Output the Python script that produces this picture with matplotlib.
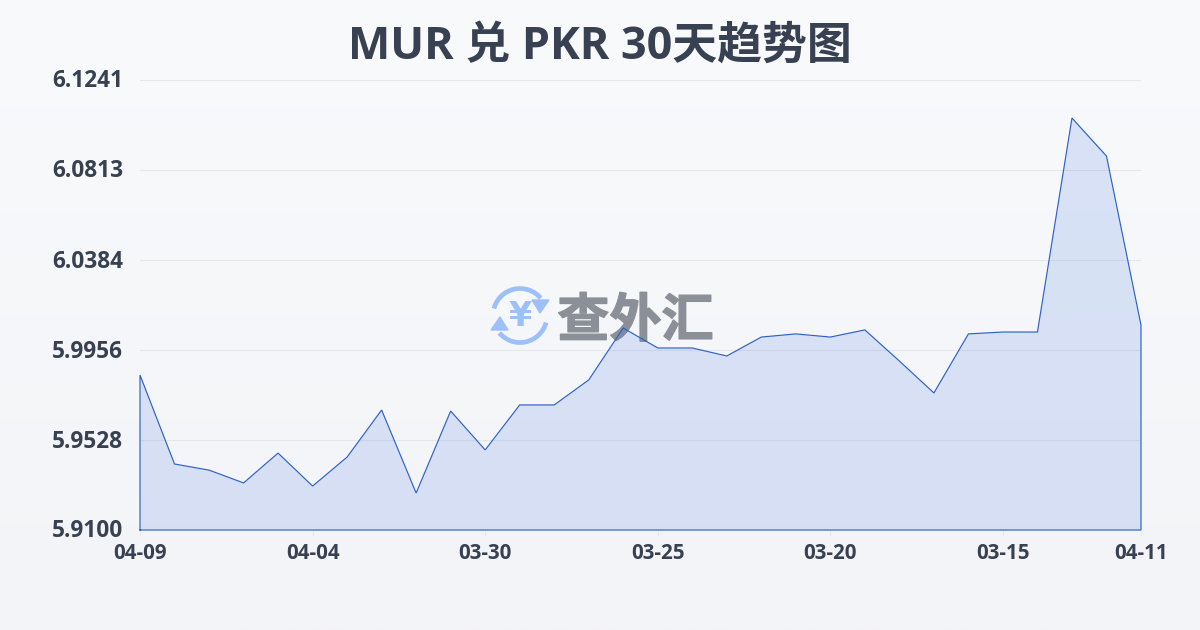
import numpy as np
import matplotlib
matplotlib.use("Agg")
import matplotlib.pyplot as plt
import matplotlib.patheffects as pe
from matplotlib.patches import Arc, Polygon
from matplotlib.transforms import ScaledTranslation

# Data
dayLabels = ["04-09", "04-04", "03-30", "03-25", "03-20", "03-15", "04-11"]
dayTickPos = [0, 5, 10, 15, 20, 25, 29]
yTicks = [5.9100, 5.9528, 5.9956, 6.0384, 6.0813, 6.1241]
rates = [5.9837, 5.9414, 5.9385, 5.9324, 5.9466, 5.9309, 5.9447, 5.9671, 5.9276, 5.9666,
         5.9481, 5.9695, 5.9695, 5.9814, 6.0061, 5.9966, 5.9966, 5.9928, 6.0018, 6.0033,
         6.0018, 6.0052, 5.9904, 5.9752, 6.0033, 6.0042, 6.0042, 6.1060, 6.0879, 6.0075]

plt.rcParams['font.family'] = ['Open Sans', 'Noto Sans CJK SC', 'DejaVu Sans']
textColor = '#374151'
lineColor = '#2f62c6'

fig = plt.figure(figsize=(12, 6.3), dpi=100)

# Background gradient
bgAx = fig.add_axes([0, 0, 1, 1], zorder=0)
gradient = np.linspace(0, 1, 256).reshape(-1, 1)
bgAx.imshow(gradient, aspect='auto', extent=(0, 1200, 630, 0),
            cmap=matplotlib.colors.LinearSegmentedColormap.from_list('bg', ['#f9fafc', '#f3f4f7']))
bgAx.set_xlim(0, 1200)
bgAx.set_ylim(630, 0)
bgAx.axis('off')

# Watermark logo
bgAx.text(635.5, 321, "查外汇", fontsize=37.5, fontweight='bold', color='#8b8f97',
          ha='center', va='center', family=['Noto Sans CJK SC'],
          path_effects=[pe.withStroke(linewidth=1.0, foreground='#8b8f97')])
logoBlue = '#9dc0fa'
bgAx.add_patch(Arc((520, 315.5), 54, 54, theta1=-165, theta2=-40, color=logoBlue, lw=3.4))
bgAx.add_patch(Arc((520, 315.5), 54, 54, theta1=15, theta2=140, color=logoBlue, lw=3.4))
bgAx.add_patch(Polygon([[532, 300], [549, 300], [540, 313]], color=logoBlue))
bgAx.add_patch(Polygon([[500, 317], [491, 330], [508, 330]], color=logoBlue))
bgAx.text(520, 316, "¥", fontsize=24, fontweight='bold', color=logoBlue,
          ha='center', va='center', family=['DejaVu Sans'])

# Main chart
ax = fig.add_axes([140 / 1200, 100 / 630, 1001 / 1200, 450 / 630], zorder=1)
ax.patch.set_alpha(0)
xs = np.arange(len(rates))
ax.set_axisbelow(True)
ax.fill_between(xs, rates, yTicks[0], facecolor='#3b6fe0', alpha=0.16, lw=0, zorder=2)
ax.plot(np.r_[xs[0], xs, xs[-1], xs[0]], np.r_[yTicks[0], rates, yTicks[0], yTicks[0]],
        color=lineColor, lw=0.85, zorder=3, solid_joinstyle='miter', clip_on=False)

ax.set_xlim(0, 29)
ax.set_ylim(yTicks[0], yTicks[-1])
ax.set_yticks(yTicks)
ax.set_yticklabels(["%.4f" % v for v in yTicks], fontsize=16.3, fontweight='bold', color=textColor)
ax.set_xticks(dayTickPos)
ax.set_xticklabels(dayLabels, fontsize=14.8, fontweight='bold', color=textColor)
ax.grid(axis='y', color='#e5e7eb', lw=0.8)
ax.tick_params(axis='y', length=0, pad=12)
ax.tick_params(axis='x', length=4, width=0.7, color='#e5e7eb', pad=5.5)
for spine in ax.spines.values():
    spine.set_visible(False)

# Nudge the y labels up a little
nudge = ScaledTranslation(0, 1.5 / 100, fig.dpi_scale_trans)
for label in ax.get_yticklabels():
    label.set_transform(label.get_transform() + nudge)

fig.text(0.5, 1 - 47 / 630, "MUR 兑 PKR 30天趋势图", fontsize=32.3, fontweight='bold',
         color=textColor, ha='center', va='center')

fig.savefig("out.png", dpi=100)
